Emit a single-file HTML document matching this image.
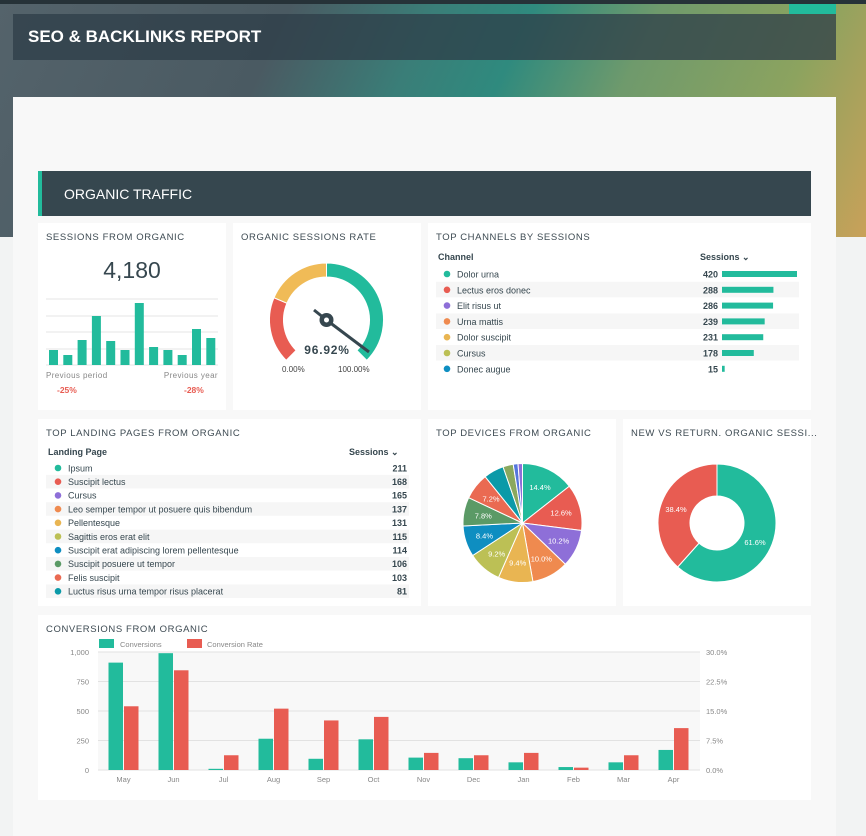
<!DOCTYPE html>
<html><head><meta charset="utf-8"><style>
*{margin:0;padding:0;box-sizing:border-box}
body{width:866px;height:836px;overflow:hidden;background:#f2f3f3;font-family:"Liberation Sans",sans-serif;position:relative;color:#36474f}
.abs{position:absolute}
.card{position:absolute;background:#fff}
.t{position:absolute;font-size:9.5px;letter-spacing:.6px;color:#3d4a52;left:8px;top:9px;white-space:nowrap}
</style></head><body>
<div class="abs" style="left:0;top:0;width:866px;height:237px;background:linear-gradient(115deg,#54636b 0%,#4a5a62 30%,#3a7e78 45%,#2f8a7e 55%,#6f9a6c 68%,#8ca35f 85%,#c9a159 100%)"></div>
<div class="abs" style="left:0;top:0;width:866px;height:4px;background:#263238"></div>
<div class="abs" style="left:789px;top:4px;width:47px;height:10px;background:#22bb9c"></div>
<div class="abs" style="left:13px;top:14px;width:823px;height:46px;background:rgba(45,62,72,.75)"></div>
<div class="abs" style="left:28px;top:27px;font-size:17px;font-weight:bold;color:#fff">SEO &amp; BACKLINKS REPORT</div>
<div class="abs" style="left:13px;top:97px;width:823px;height:739px;background:#f8f8f8"></div>
<div class="abs" style="left:38px;top:171px;width:773px;height:45px;background:#36474f;border-left:4px solid #22bb9c"></div>
<div class="abs" style="left:64px;top:186px;font-size:14px;color:#fff">ORGANIC TRAFFIC</div>

<div class="card" style="left:38px;top:223px;width:188px;height:187px"><div class="t">SESSIONS FROM ORGANIC</div>
<div class="abs" style="left:0;width:188px;top:34px;text-align:center;font-size:23px;color:#36474f">4,180</div>
<div class="abs" style="left:8px;top:148px;font-size:8px;color:#888;letter-spacing:.4px">Previous period</div>
<div class="abs" style="right:8px;top:148px;font-size:8px;color:#888;letter-spacing:.4px">Previous year</div>
<div class="abs" style="left:19px;top:162px;font-size:8.5px;color:#e85c52;font-weight:bold">-25%</div>
<div class="abs" style="left:146px;top:162px;font-size:8.5px;color:#e85c52;font-weight:bold">-28%</div>
</div>
<div class="card" style="left:233px;top:223px;width:188px;height:187px"><div class="t">ORGANIC SESSIONS RATE</div>
<div class="abs" style="left:0;width:188px;top:120px;text-align:center;font-size:12px;font-weight:bold;letter-spacing:.8px;color:#36474f">96.92%</div>
<div class="abs" style="left:49px;top:142px;font-size:8px;color:#444">0.00%</div>
<div class="abs" style="left:105px;top:142px;font-size:8px;color:#444">100.00%</div>
</div>
<div class="card" style="left:428px;top:223px;width:383px;height:187px"><div class="t">TOP CHANNELS BY SESSIONS</div></div>
<div class="card" style="left:38px;top:419px;width:383px;height:187px"><div class="t">TOP LANDING PAGES FROM ORGANIC</div></div>
<div class="card" style="left:428px;top:419px;width:188px;height:187px"><div class="t">TOP DEVICES FROM ORGANIC</div></div>
<div class="card" style="left:623px;top:419px;width:188px;height:187px"><div class="t">NEW VS RETURN. ORGANIC SESSI...</div></div>
<div class="card" style="left:38px;top:615px;width:773px;height:185px"><div class="t">CONVERSIONS FROM ORGANIC</div></div>

<svg class="abs" style="left:0;top:0" width="866" height="836" id="s"></svg>
<script>
var s=document.getElementById('s'),h='';
function P(cx,cy,r,a0,a1,col,ri){var f=function(a,rr){a=(a-90)*Math.PI/180;return [cx+rr*Math.cos(a),cy+rr*Math.sin(a)]};var L=(a1-a0)>180?1:0,p=f(a0,r),q=f(a1,r);
if(ri){var pi=f(a1,ri),qi=f(a0,ri);return '<path d="M'+p+'A'+r+','+r+' 0 '+L+' 1 '+q+'L'+pi+'A'+ri+','+ri+' 0 '+L+' 0 '+qi+'Z" fill="'+col+'" stroke="#fff" stroke-width="1"/>';}
return '<path d="M'+cx+','+cy+'L'+p+'A'+r+','+r+' 0 '+L+' 1 '+q+'Z" fill="'+col+'" stroke="#fff" stroke-width="1"/>';}
function T(x,y,t,o){o=o||{};return '<text x="'+x+'" y="'+y+'" font-size="'+(o.s||8)+'" fill="'+(o.c||'#888')+'" text-anchor="'+(o.a||'start')+'"'+(o.w?' font-weight="bold"':'')+' font-family="Liberation Sans,sans-serif">'+t+'</text>';}
[299,316,332,349,365].forEach(function(y){h+='<line x1="46" x2="218" y1="'+y+'" y2="'+y+'" stroke="#e6e6e6"/>'});
[350,355,340,316,341,350,303,347,350,355,329,338].forEach(function(t,i){h+='<rect x="'+(49+i*14.3)+'" y="'+t+'" width="9" height="'+(365-t)+'" fill="#22bb9c"/>'});
h+=P(326.5,320,57,-135,-67,'#e85c52',43)+P(326.5,320,57,-67,0,'#f0bb57',43)+P(326.5,320,57,0,135,'#22bb9c',43);
h+='<line x1="326.5" y1="320" x2="369" y2="352" stroke="#36474f" stroke-width="3"/><line x1="326.5" y1="320" x2="314" y2="310" stroke="#36474f" stroke-width="3"/><circle cx="326.5" cy="320" r="7" fill="#36474f"/><circle cx="326.5" cy="320" r="2.5" fill="#fff"/>';
var d=[[14.4,'#22bb9c'],[12.6,'#e85c52'],[10.2,'#8e6fd8'],[10.0,'#ef8a4f'],[9.4,'#e9b552'],[9.2,'#bcc055'],[8.4,'#0e8ec1'],[7.8,'#5b9a66'],[7.2,'#ea6a52'],[5.5,'#0b9aa8'],[2.8,'#8aa85e'],[1.3,'#5577dd'],[1.2,'#8e6fd8']],a=0;
d.forEach(function(v){var b=a+v[0]*3.6;h+=P(522.5,523,59.5,a,b,v[1]);if(v[0]>7){var m=((a+b)/2-90)*Math.PI/180;h+=T(522.5+40*Math.cos(m),523+40*Math.sin(m)+3,v[0].toFixed(1)+'%',{c:'#fff',a:'middle',s:7.5})}a=b;});
h+=P(717,523,59,0,221.8,'#22bb9c',27)+P(717,523,59,221.8,360,'#e85c52',27);
h+=T(755,545,'61.6%',{c:'#fff',a:'middle',s:7.5})+T(676,512,'38.4%',{c:'#fff',a:'middle',s:7.5});
h+='<rect x="98" y="652" width="602" height="118" fill="#f8f8f8"/>';
['1,000','750','500','250','0'].forEach(function(l,i){var y=652+i*29.5;h+='<line x1="98" x2="700" y1="'+y+'" y2="'+y+'" stroke="#e2e2e2"/>'+T(89,y+3,l,{a:'end',s:7.5})+T(706,y+3,['30.0%','22.5%','15.0%','7.5%','0.0%'][i],{s:7.5})});
var g=[910,990,10,265,95,260,105,100,65,25,65,170],r=[540,845,125,520,420,450,145,125,145,20,125,355],m=['May','Jun','Jul','Aug','Sep','Oct','Nov','Dec','Jan','Feb','Mar','Apr'];
m.forEach(function(n,i){var c=123.5+i*50;h+='<rect x="'+(c-15)+'" y="'+(770-g[i]*.118)+'" width="14.5" height="'+g[i]*.118+'" fill="#22bb9c"/><rect x="'+(c+0.5)+'" y="'+(770-r[i]*.118)+'" width="14.5" height="'+r[i]*.118+'" fill="#e85c52"/>'+T(c,782,n,{a:'middle',s:7.5})});
h+='<rect x="99" y="639" width="15" height="9" fill="#22bb9c"/>'+T(120,647,'Conversions',{s:7.5})+'<rect x="187" y="639" width="15" height="9" fill="#e85c52"/>'+T(207,647,'Conversion Rate',{s:7.5});
h+=T(438,260,'Channel',{c:'#36474f',w:1,s:9})+T(700,260,'Sessions ⌄',{c:'#36474f',w:1,s:9});
var ch=[['Dolor urna',420,'#22bb9c'],['Lectus eros donec',288,'#e85c52'],['Elit risus ut',286,'#8e6fd8'],['Urna mattis',239,'#ef8a4f'],['Dolor suscipit',231,'#e9b552'],['Cursus',178,'#bcc055'],['Donec augue',15,'#0e8ec1']];
ch.forEach(function(c,i){var y=274+i*15.8;if(i%2)h+='<rect x="436" y="'+(y-8)+'" width="363" height="15.5" fill="#f6f6f6"/>';h+='<circle cx="447" cy="'+y+'" r="3.3" fill="'+c[2]+'"/>'+T(457,y+3.5,c[0],{c:'#36474f',s:9})+T(718,y+3.5,c[1],{c:'#36474f',w:1,s:9,a:'end'})+'<rect x="722" y="'+(y-3)+'" width="'+c[1]/420*75+'" height="6" fill="#22bb9c"/>'});
h+=T(48,455,'Landing Page',{c:'#36474f',w:1,s:9})+T(349,455,'Sessions ⌄',{c:'#36474f',w:1,s:9});
var lp=[['Ipsum',211,'#22bb9c'],['Suscipit lectus',168,'#e85c52'],['Cursus',165,'#8e6fd8'],['Leo semper tempor ut posuere quis bibendum',137,'#ef8a4f'],['Pellentesque',131,'#e9b552'],['Sagittis eros erat elit',115,'#bcc055'],['Suscipit erat adipiscing lorem pellentesque',114,'#0e8ec1'],['Suscipit posuere ut tempor',106,'#5b9a66'],['Felis suscipit',103,'#ea6a52'],['Luctus risus urna tempor risus placerat',81,'#0b9aa8']];
lp.forEach(function(c,i){var y=468+i*13.7;if(i%2)h+='<rect x="46" y="'+(y-6.8)+'" width="363" height="13.5" fill="#f6f6f6"/>';h+='<circle cx="58" cy="'+y+'" r="3.3" fill="'+c[2]+'"/>'+T(68,y+3.3,c[0],{c:'#36474f',s:9})+T(407,y+3.3,c[1],{c:'#36474f',w:1,s:9,a:'end'})});
s.innerHTML=h;
</script>
</body></html>
